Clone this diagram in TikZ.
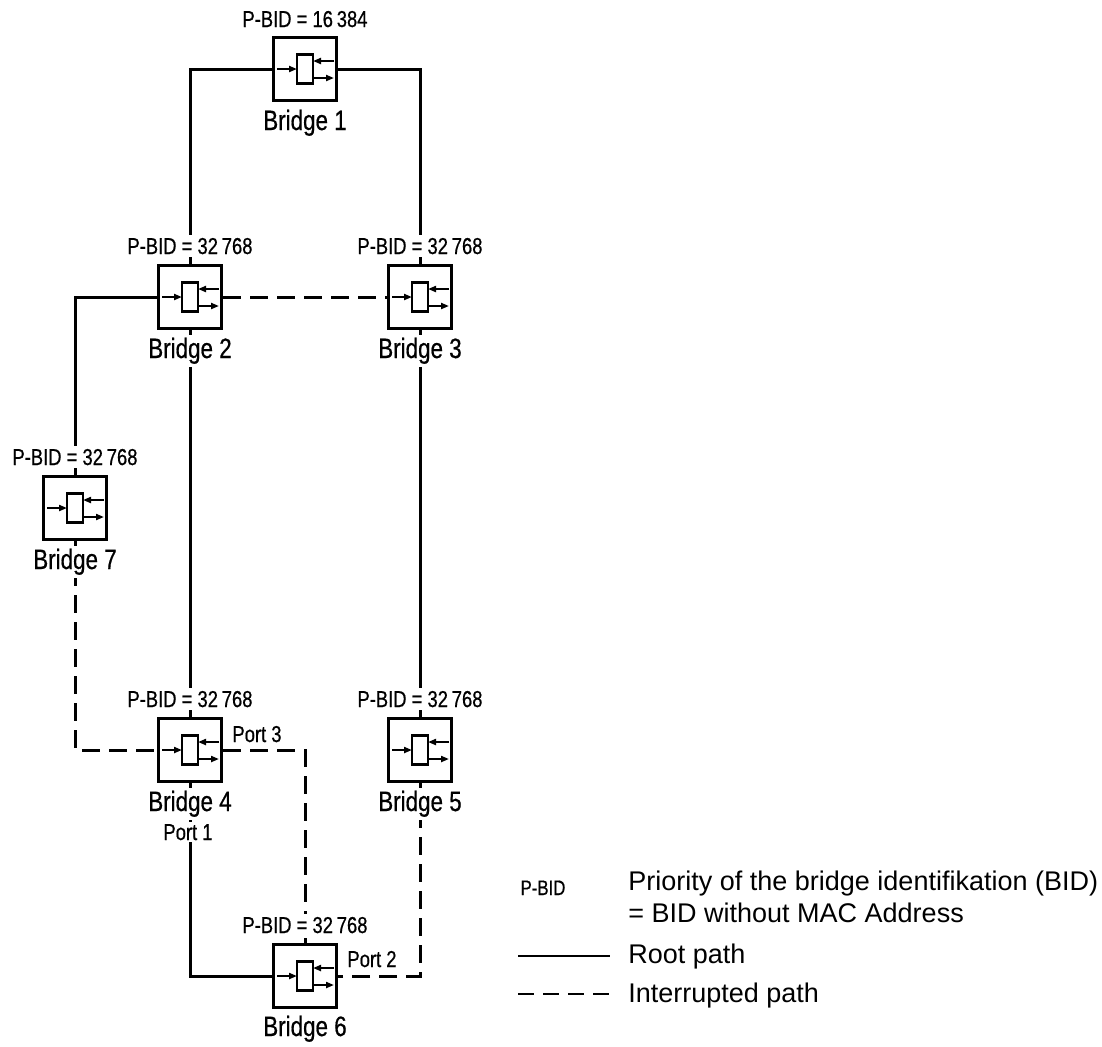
\documentclass[tikz,border=0pt]{standalone}
\usepackage{fontspec}
\setmainfont{Liberation Sans}
\newfontfamily\narrowsans[FakeStretch=0.8,FakeBold=0.6]{Liberation Sans}
\usetikzlibrary{arrows.meta}

\begin{document}
\begin{tikzpicture}[x=0.5pt,y=-0.5pt,
    bridge/.style={draw,line width=1.5pt,minimum size=31.5pt,inner sep=0pt,fill=white},
    root/.style={line width=1.5pt},
    cut/.style={line width=1.5pt,dash pattern=on 9pt off 4.5pt},
    pbid/.style={anchor=base,fill=white,inner sep=1.5pt,font=\narrowsans\fontsize{11.5}{13}\selectfont},
    btitle/.style={anchor=base,fill=white,inner sep=1.5pt,font=\narrowsans\fontsize{14}{16}\selectfont},
    porttext/.style={anchor=base,fill=white,inner sep=1pt,font=\narrowsans\fontsize{11.5}{13}\selectfont},
    keytext/.style={anchor=base west,inner sep=0pt,font=\fontsize{13.5}{15}\selectfont},
    flow/.style={line width=1.1pt,-{Triangle[length=4pt,width=3pt]}}]
  \useasboundingbox (0,0) rectangle (1102,1046);
  % bridges
  \node[bridge] (b1) at (305,69) {};
  \node[bridge] (b2) at (190,297) {};
  \node[bridge] (b3) at (420,297) {};
  \node[bridge] (b7) at (75,508) {};
  \node[bridge] (b4) at (190,750) {};
  \node[bridge] (b5) at (420,750) {};
  \node[bridge] (b6) at (305,976) {};
  % icon in every bridge
  \foreach \b in {b1,b2,b3,b4,b5,b6,b7}{
    \begin{scope}[shift={(\b.center)}]
      \draw[line width=1.3pt] (-8,-14.5) rectangle (8,14.5);
      \draw[flow] (-28,0) -- (-8,0);
      \draw[flow] (29,-8) -- (8,-8);
      \draw[flow] (8,9) -- (29,9);
    \end{scope}
  }
  % paths
  \draw[root] (b1.west) -| (b2.north);
  \draw[root] (b1.east) -| (b3.north);
  \draw[cut] (b2.east) -- (b3.west);
  \draw[root] (b2.west) -| (b7.north);
  \draw[root] (b2.south) -- (b4.north);
  \draw[root] (b3.south) -- (b5.north);
  \draw[cut] (b7.south) |- (b4.west);
  \draw[cut] (b4.east) -| (b6.north);
  \draw[root] (b4.south) |- (b6.west);
  \draw[cut] (b5.south) |- (b6.east);
  % labels
  \node[pbid] (p1) at (305,27) {P-BID = 16\,384};
  \node[pbid] (p2) at (190,254) {P-BID = 32\,768};
  \node[pbid] (p3) at (420,254) {P-BID = 32\,768};
  \node[pbid] (p7) at (75,465) {P-BID = 32\,768};
  \node[pbid] (p4) at (190,707) {P-BID = 32\,768};
  \node[pbid] (p5) at (420,707) {P-BID = 32\,768};
  \node[pbid] (p6) at (305,933) {P-BID = 32\,768};
  \node[btitle] (n1) at (305,130) {Bridge 1};
  \node[btitle] (n2) at (190,358) {Bridge 2};
  \node[btitle] (n3) at (420,358) {Bridge 3};
  \node[btitle] (n7) at (75,569) {Bridge 7};
  \node[btitle] (n4) at (190,811) {Bridge 4};
  \node[btitle] (n5) at (420,811) {Bridge 5};
  \node[btitle] (n6) at (305,1036) {Bridge 6};
  \node[porttext] (t3) at (257,742) {Port 3};
  \node[porttext] (t1) at (188,840) {Port 1};
  \node[porttext] (t2) at (372,967) {Port 2};
  % legend
  \node[anchor=base,font=\narrowsans\fontsize{10.5}{12}\selectfont] (k0) at (543,895) {P-BID};
  \node[keytext] (k1) at (628,890) {Priority of the bridge identifikation (BID)};
  \node[keytext] (k2) at (628,922) {= BID without MAC Address};
  \coordinate (r0) at (518,956);
  \coordinate (r1) at (610,956);
  \draw[line width=1.1pt] (r0) -- (r1);
  \node[keytext] (k3) at (628,963) {Root path};
  \coordinate (d0) at (518,994);
  \coordinate (d1) at (610,994);
  \draw[line width=1.1pt,dash pattern=on 8pt off 4.5pt] (d0) -- (d1);
  \node[keytext] (k4) at (628,1002) {Interrupted path};
\end{tikzpicture}
\end{document}
